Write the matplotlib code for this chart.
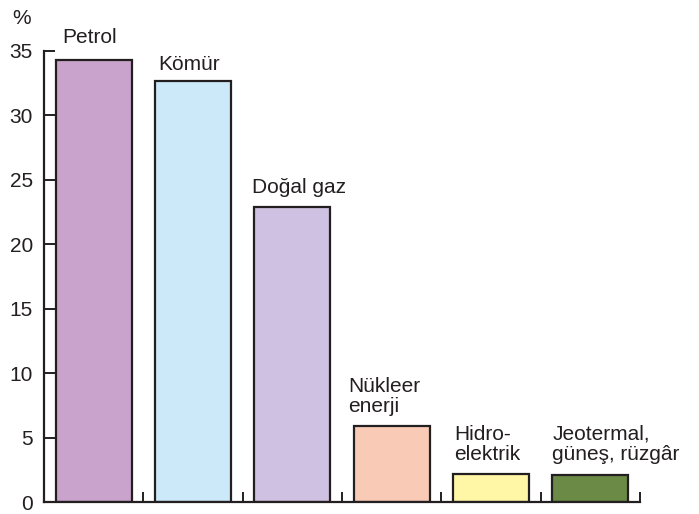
import matplotlib
matplotlib.use("Agg")
import matplotlib.pyplot as plt
import numpy as np

plt.rcParams['font.family'] = ['Liberation Sans', 'DejaVu Sans']

# energy sources and their share of world consumption (%)
sources = ["Petrol", "Kömür", "Doğal gaz", "Nükleer\nenerji", "Hidro-\nelektrik",
           "Jeotermal,\ngüneş, rüzgâr"]
shares = [34.3, 32.7, 22.9, 5.9, 2.2, 2.1]
colors = ["#C9A3CB", "#CCE9F9", "#CFC1E1", "#F9CBB6", "#FFF6A6", "#6A8A45"]
yticks = [0, 5, 10, 15, 20, 25, 30, 35]

ink = "#231F20"
fig = plt.figure(figsize=(6.99, 5.14), dpi=100)
ax = fig.add_axes([44 / 699, 1 - 502 / 514, 596 / 699, 451 / 514])

x = np.arange(len(sources))
width = 0.765
ax.bar(x, shares, width=width, color=colors, edgecolor=ink, linewidth=1.6, zorder=2)

# labels sit above each bar, roughly flush with its left edge (offsets in points)
label_offsets = [(5, 12), (2, 8), (-2, 10), (-4, 10), (1, 10), (0, 11)]
for xi, val, name, off in zip(x, shares, sources, label_offsets):
    ax.annotate(name, (xi - width / 2, val), xytext=off, textcoords="offset points",
                ha="left", va="baseline", fontsize=15, color=ink,
                linespacing=1.05, annotation_clip=False)

ax.set_xlim(-0.5, len(sources) - 0.5)
ax.set_ylim(0, 35)
ax.set_yticks(yticks)
ax.set_xticks(np.arange(len(sources)) + 0.5)
ax.set_xticklabels([])
ax.tick_params(axis="y", direction="in", length=8, width=1.4, color=ink,
               labelsize=15, labelcolor=ink, pad=8)
ax.tick_params(axis="x", direction="in", length=7, width=1.4, color=ink)

for side in ("top", "right"):
    ax.spines[side].set_visible(False)
for side in ("left", "bottom"):
    ax.spines[side].set_linewidth(1.6)
    ax.spines[side].set_color(ink)

fig.text(12 / 699, 1 - 24 / 514, "%", fontsize=15, color=ink, ha="left", va="baseline")

fig.savefig("out.png", dpi=100)
